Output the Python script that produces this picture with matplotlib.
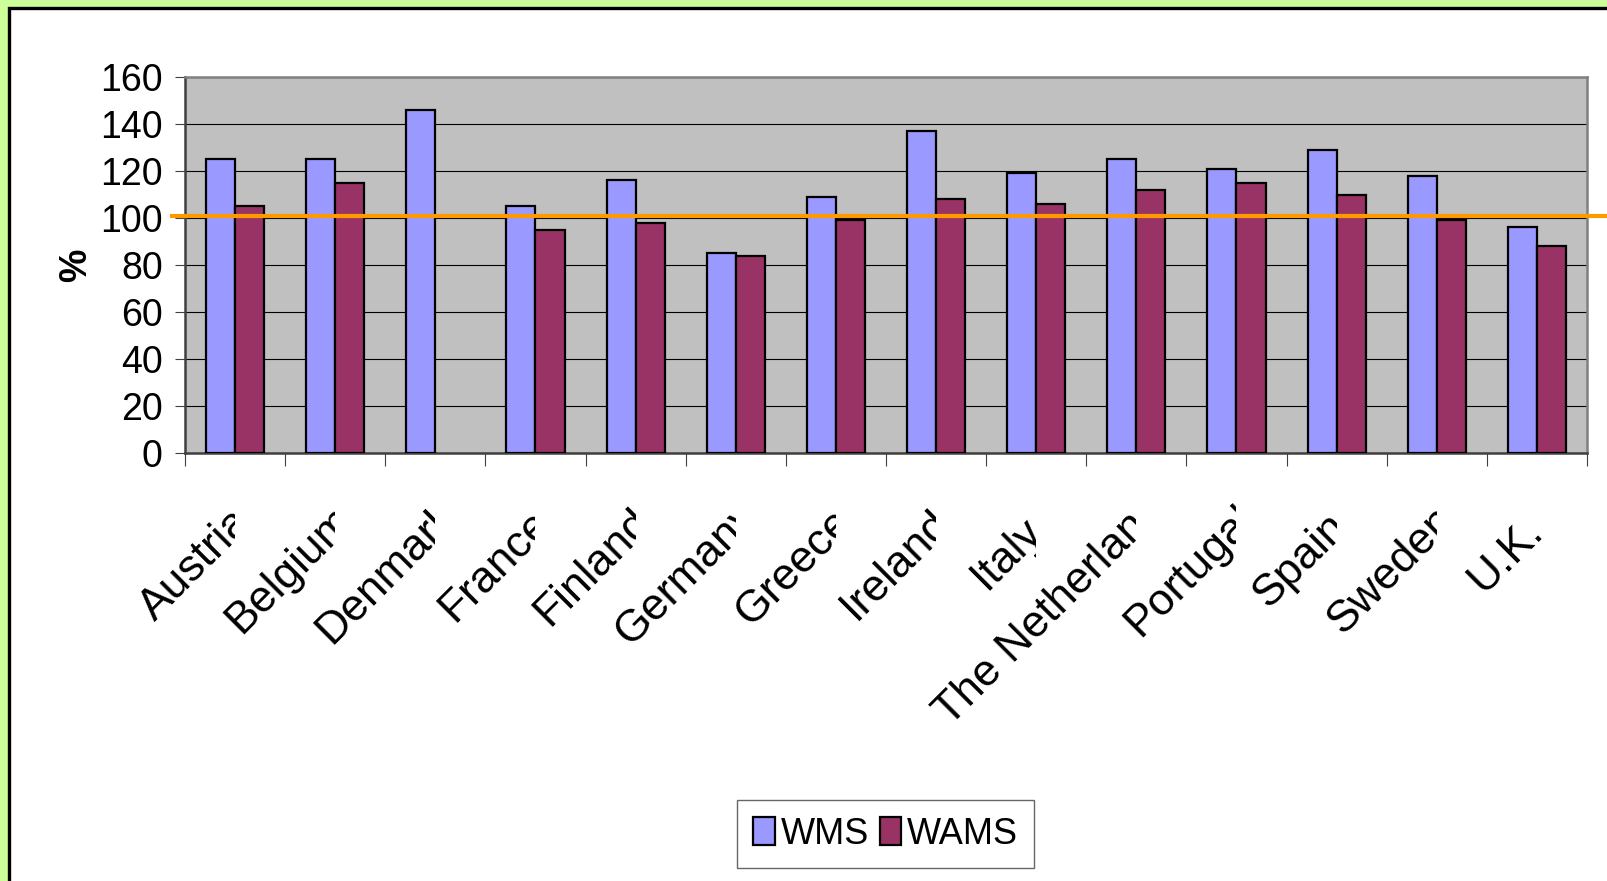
import numpy as np
import matplotlib
matplotlib.use("Agg")
import matplotlib.pyplot as plt
from matplotlib.patches import Rectangle
from matplotlib.transforms import ScaledTranslation
import matplotlib.textpath as textpath
from matplotlib.font_manager import FontProperties

plt.rcParams['font.family'] = ['Liberation Sans', 'DejaVu Sans']

countries = ['Austria', 'Belgium', 'Denmark', 'France', 'Finland', 'Germany', 'Greece',
             'Ireland', 'Italy', 'The Netherlands', 'Portugal', 'Spain', 'Sweden', 'U.K.']
wms = [125, 125, 146, 105, 116, 85, 109, 137, 119, 125, 121, 129, 118, 96]
wams = [105, 115, np.nan, 95, 98, 84, 99, 108, 106, 112, 115, 110, 99, 88]
reference = 101

DPI = 100
fig = plt.figure(figsize=(16.08, 8.81), dpi=DPI, facecolor='#CCFF99')

# white chart area with a heavy black frame (runs off the right and bottom)
fig.patches.append(Rectangle((9.5 / 1608, -0.05), 1.2, 1 - 8.5 / 881 + 0.05,
                             transform=fig.transFigure, facecolor='white',
                             edgecolor='black', linewidth=2.4, zorder=-5))

ax = fig.add_axes([185 / 1608, 1 - 453 / 881, 1402 / 1608, 376 / 881], zorder=2)
ax.set_facecolor('#C0C0C0')

x = np.arange(len(countries))
w = 0.29
ax.bar(x + 0.5 - w / 2, wms, w, color='#9999FF', edgecolor='black', linewidth=1.6,
       label='WMS', zorder=3)
ax.bar(x + 0.5 + w / 2, wams, w, color='#993366', edgecolor='black', linewidth=1.6,
       label='WAMS', zorder=3)

ax.set_xlim(0, len(countries))
ax.set_ylim(0, 160)
ax.set_yticks(np.arange(0, 161, 20))
ax.yaxis.grid(True, color='black', linewidth=0.8, zorder=1)
ax.set_axisbelow(True)
ax.tick_params(axis='y', length=7, width=0.8, color='#404040', pad=9, labelsize=27)
ax.set_xticks(np.arange(0, len(countries) + 1))
ax.set_xticklabels([])
ax.tick_params(axis='x', length=9, width=0.8, color='#404040')
for s in ax.spines.values():
    s.set_color('#808080')
    s.set_linewidth(1.8)
ax.spines['left'].set_color('#404040')
ax.spines['bottom'].set_color('#404040')

ax.set_ylabel('%', fontsize=27, fontweight='bold', labelpad=4)

# orange reference line, drawn a little past the plot area
ax.axhline(reference, xmin=-13 / 1402, xmax=1.02, color='#FF9900', linewidth=3,
           clip_on=False, zorder=5)

# rotated category labels, truncated at the category centre
fs = 32
fp = FontProperties(family='Liberation Sans', size=fs)
for i, name in enumerate(countries):
    wpx = textpath.TextPath((0, 0), name, prop=fp).get_extents().width * DPI / 72
    over = max(0.22 * wpx - 16, 0)
    dx = over * 0.7071 + 7
    dy = -69 + over * 0.7071 - 12
    tr = ax.get_xaxis_transform() + ScaledTranslation(dx / DPI, dy / DPI, fig.dpi_scale_trans)
    t = ax.text(i + 0.5, 0, name, transform=tr, rotation=45, rotation_mode='anchor',
                ha='right', va='baseline', fontsize=fs)
    if i < len(countries) - 1:
        clip = Rectangle((i - 2, -3), 2.5, 3, transform=ax.get_xaxis_transform())
        t.set_clip_path(clip)
        t.set_clip_on(True)

leg = fig.legend(loc='center', bbox_to_anchor=(885.5 / 1608, 1 - 834 / 881), ncol=2,
                 fontsize=26, frameon=True, fancybox=False, edgecolor='#404040',
                 handlelength=0.6, handleheight=0.85, handletextpad=0.15,
                 columnspacing=0.3, borderpad=0.45)
leg.get_frame().set_linewidth(1.0)

fig.savefig('out.png', dpi=DPI, facecolor=fig.get_facecolor())
